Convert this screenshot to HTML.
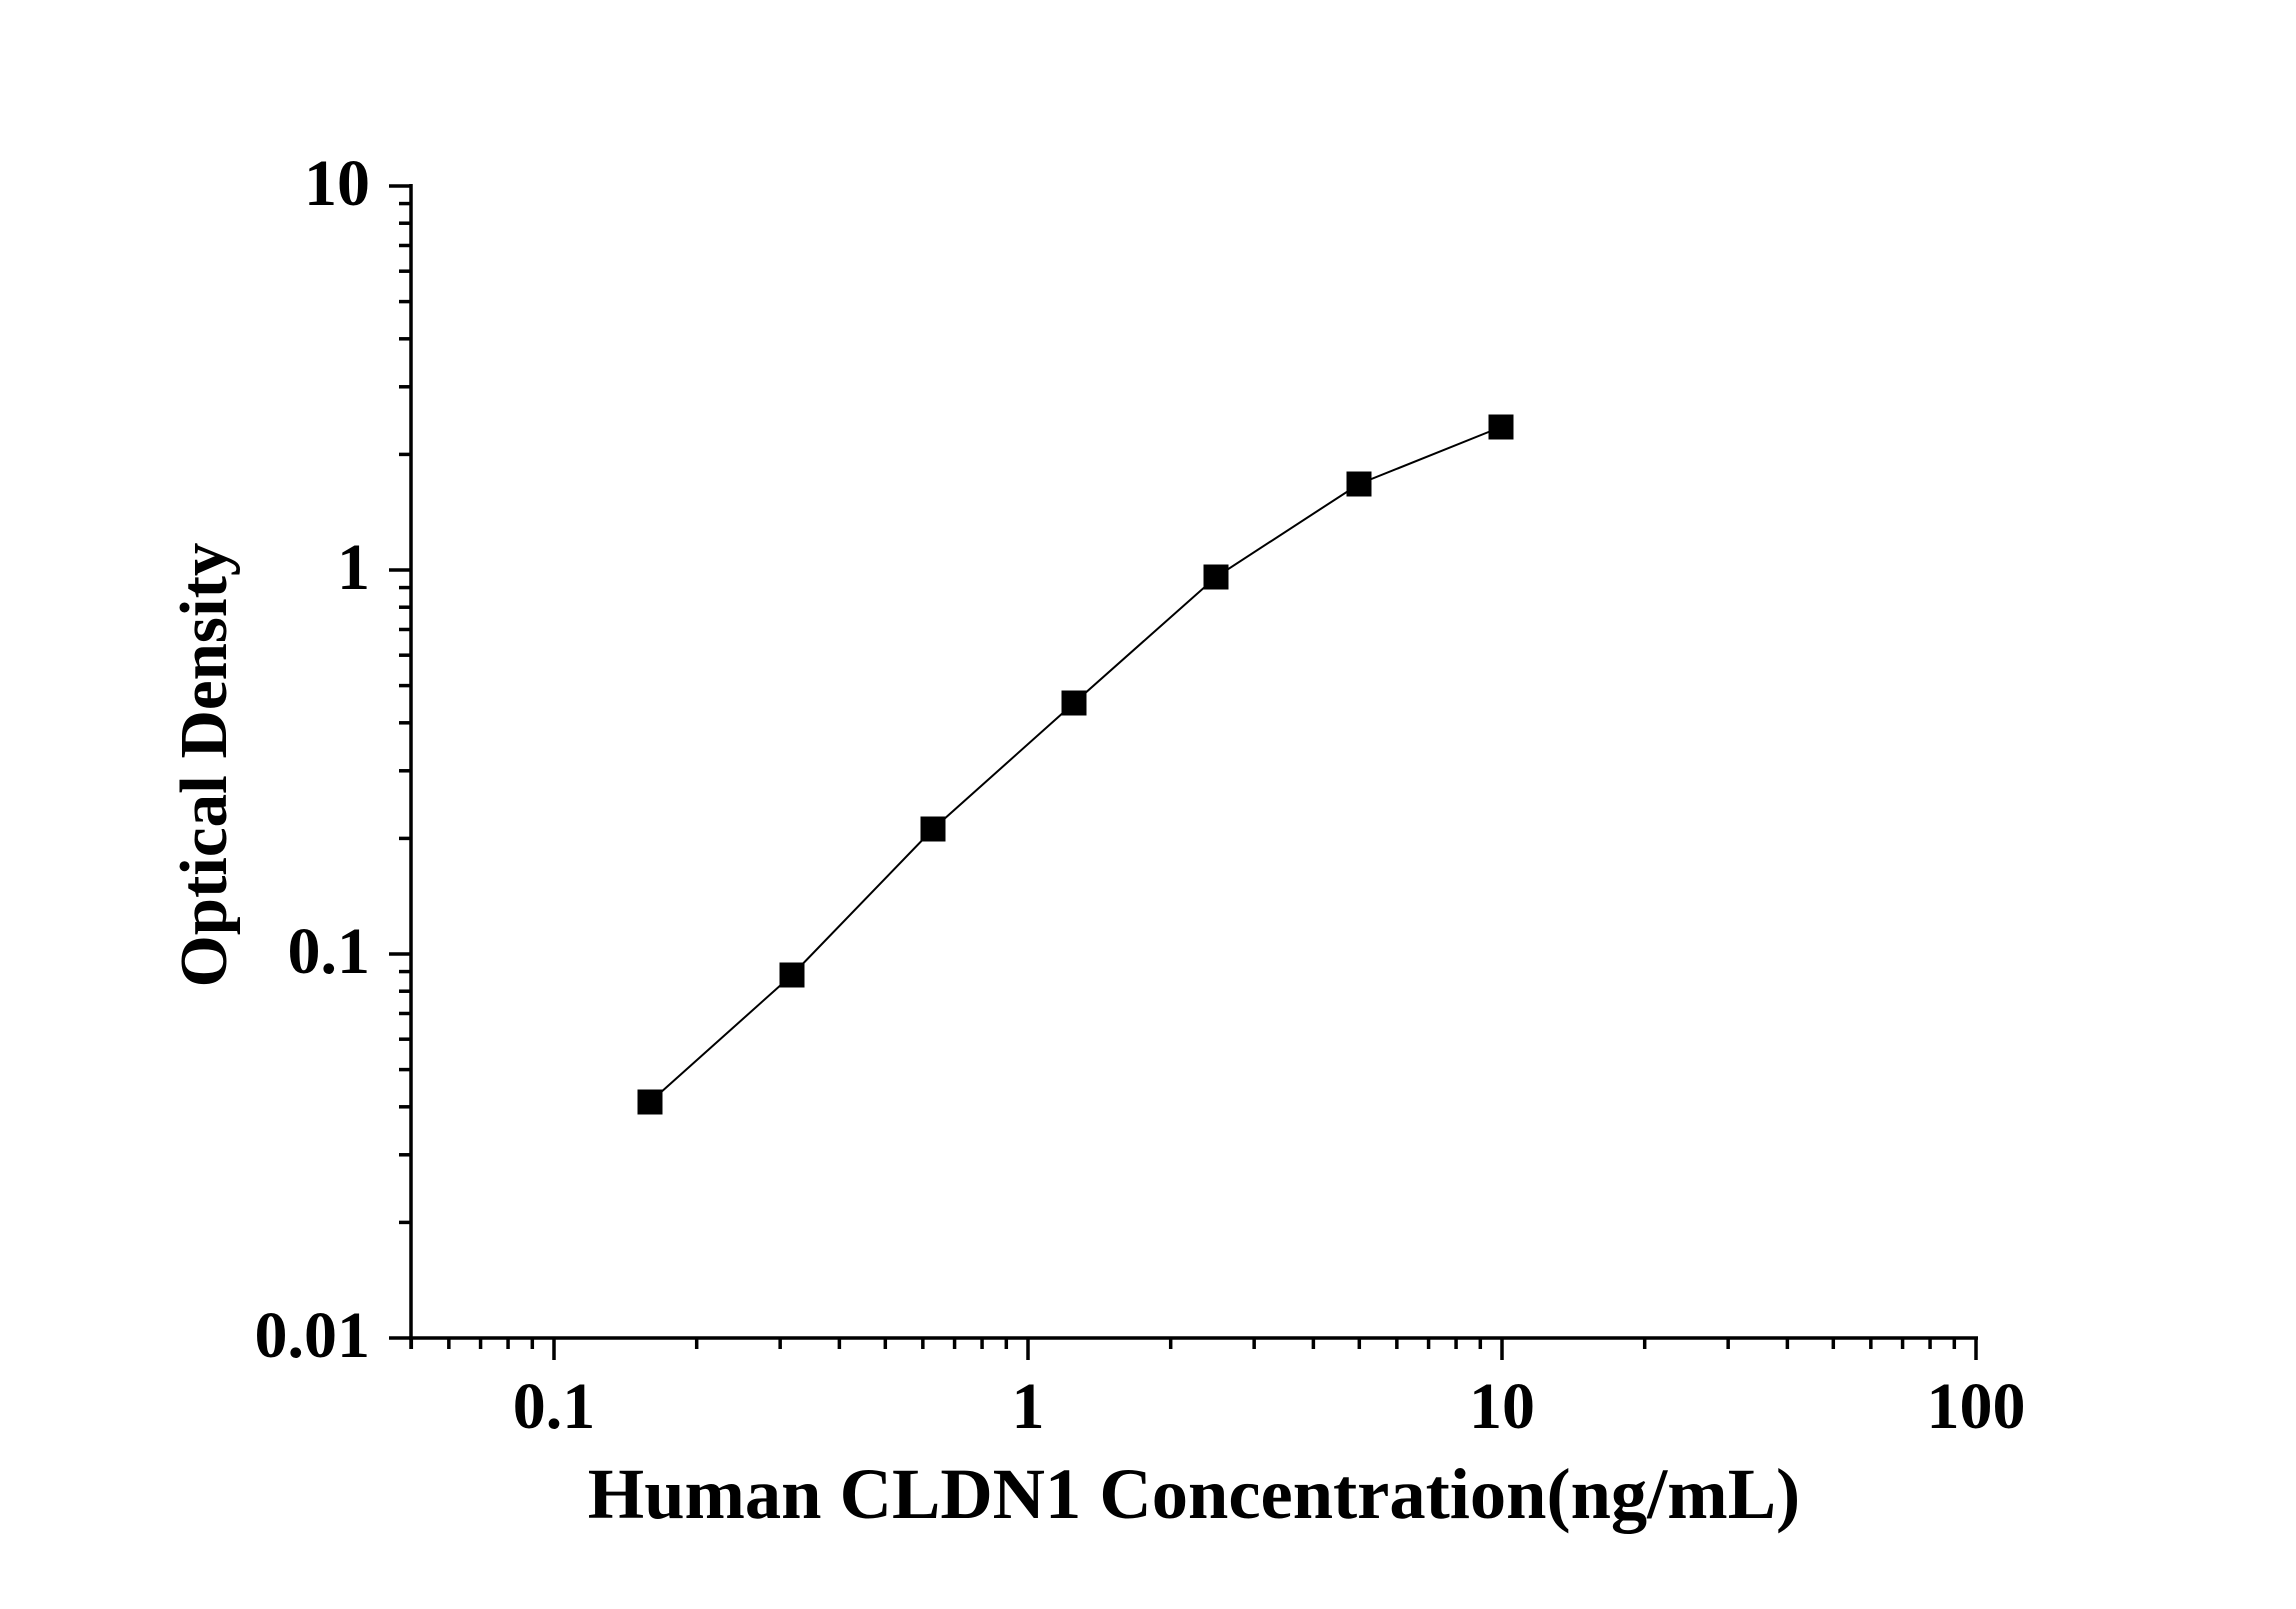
<!DOCTYPE html>
<html><head><meta charset="utf-8"><style>body{margin:0;background:#fff}</style></head>
<body>
<svg width="2296" height="1604" xmlns="http://www.w3.org/2000/svg" font-family="'Liberation Serif', serif" font-weight="bold">
<rect width="2296" height="1604" fill="#fff"/>
<g stroke="#000" stroke-width="3.5" fill="none">
<line x1="411" y1="184" x2="411" y2="1340"/>
<line x1="409" y1="1338" x2="1978" y2="1338"/>
<line x1="389" y1="186" x2="411" y2="186"/>
<line x1="389" y1="570" x2="411" y2="570"/>
<line x1="389" y1="954" x2="411" y2="954"/>
<line x1="389" y1="1338" x2="411" y2="1338"/>
<line x1="554" y1="1338" x2="554" y2="1360"/>
<line x1="1028" y1="1338" x2="1028" y2="1360"/>
<line x1="1502" y1="1338" x2="1502" y2="1360"/>
<line x1="1976" y1="1338" x2="1976" y2="1360"/>
<line x1="411" y1="1338" x2="411" y2="1349"/>
</g>
<g stroke="#000" stroke-width="3.5" id="minor"></g>
<g font-size="66" text-anchor="end" fill="#000">
<text x="370" y="205">10</text>
<text x="370" y="589">1</text>
<text x="370" y="973">0.1</text>
<text x="370" y="1357">0.01</text>
</g>
<g font-size="66" text-anchor="middle" fill="#000">
<text x="554" y="1428">0.1</text>
<text x="1028" y="1428">1</text>
<text x="1502" y="1428">10</text>
<text x="1976" y="1428">100</text>
</g>
<text x="1194" y="1518" font-size="72.5" text-anchor="middle">Human CLDN1 Concentration(ng/mL)</text>
<text transform="translate(226,765) rotate(-90)" font-size="67" text-anchor="middle">Optical Density</text>
<polyline fill="none" stroke="#000" stroke-width="2" points="650,1102 792,975 933,829 1074,703 1216,577 1359,484 1501,427"/>
<g fill="#000">
<rect x="637.5" y="1089.5" width="25" height="25"/>
<rect x="779.5" y="962.5" width="25" height="25"/>
<rect x="920.5" y="816.5" width="25" height="25"/>
<rect x="1061.5" y="690.5" width="25" height="25"/>
<rect x="1203.5" y="564.5" width="25" height="25"/>
<rect x="1346.5" y="471.5" width="25" height="25"/>
<rect x="1488.5" y="414.5" width="25" height="25"/>
</g>
<script>
var g=document.getElementById('minor'),ns='http://www.w3.org/2000/svg';
function L(a,b,c,d){var l=document.createElementNS(ns,'line');l.setAttribute('x1',a);l.setAttribute('y1',b);l.setAttribute('x2',c);l.setAttribute('y2',d);g.appendChild(l);}
for(var dec=0;dec<3;dec++){for(var k=2;k<10;k++){var y=1338-384*dec-384*Math.log10(k);L(399,y,411,y);}}
for(var dec=-2;dec<2;dec++){for(var k=2;k<10;k++){var v=Math.log10(k)+dec+1;var x=554+474*v;if(x>411&&x<1976)L(x,1338,x,1349);}}
</script>
</svg>
</body></html>
